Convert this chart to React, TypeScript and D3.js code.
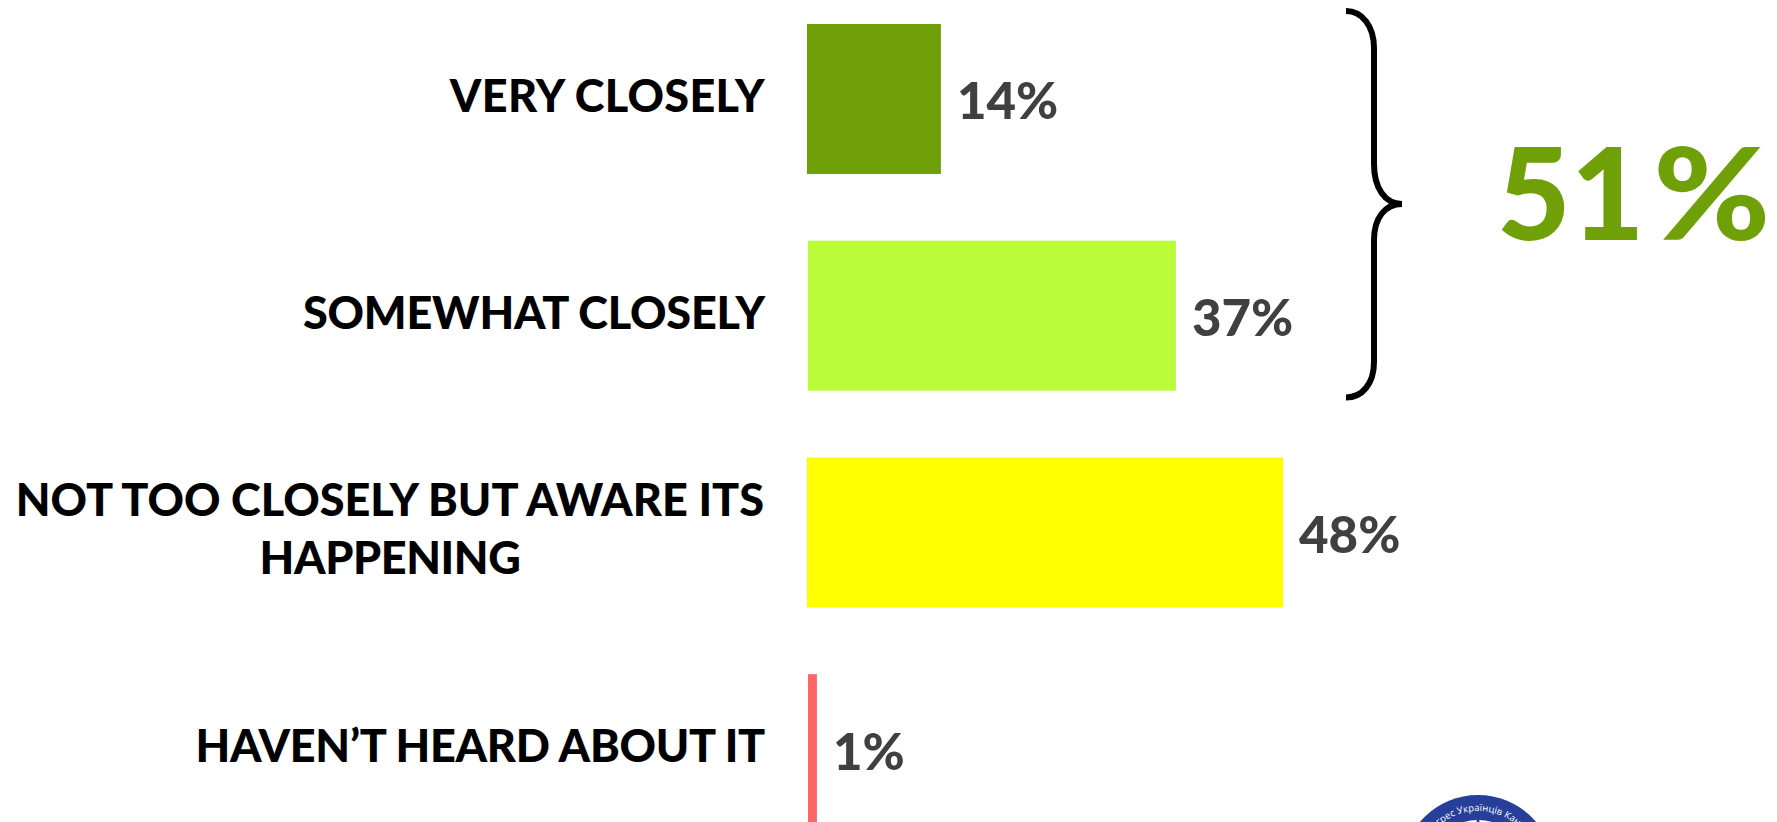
import React from "react";
import * as d3 from "d3";

const categories = ["VERY CLOSELY", "SOMEWHAT CLOSELY", "NOT TOO CLOSELY BUT AWARE ITS|HAPPENING", "HAVEN\u2019T HEARD ABOUT IT"];
const barStarts = [0, 0.1, 0, 0.1];
const values = [13.5, 37.2, 48, 1];
const valueLabels = ["14%", "37%", "48%", "1%"];
const barColors = ["#6fa008", "#bafb3a", "#ffff00", "#ff6666"];
const groupTotal = "51";
const groupUnit = "%";
const logoText = "Конгрес Українців Канади";

const W = 1777, H = 822;
const FONT = "Lato, 'Open Sans', sans-serif";
const labelSpacing = [0.3, -0.2, 0, -0.3];

export default function App() {
  const x = d3.scaleLinear().domain([0, 48]).range([807, 1283]);
  const y = d3.scaleBand<number>().domain(d3.range(categories.length)).range([24, 24 + 4 * 216.7 - 66.7]).paddingInner(0.308);
  const bw = y.bandwidth();
  return (
    <svg width={W} height={H} style={{ position: "absolute", left: 0, top: 0, background: "#fff" }} fontFamily={FONT}>
      {categories.map((c, i) => {
        const lines = c.split("|");
        const cy = (y(i) as number) + bw / 2;
        return (
          <g key={c}>
            <rect x={x(barStarts[i])} y={y(i)} width={x(values[i]) - x(barStarts[i])} height={bw} fill={barColors[i]} />
            {lines.length === 1 ? (
              <text x={765} y={cy - 4} dominantBaseline="central" textAnchor="end" fontSize={45} fontWeight={900} letterSpacing={labelSpacing[i]}>{c}</text>
            ) : (
              <g fontSize={45} fontWeight={900}>
                <text x={764} y={cy - 33} dominantBaseline="central" textAnchor="end">{lines[0]}</text>
                <text x={390} y={cy + 25} dominantBaseline="central" textAnchor="middle" letterSpacing={-0.4}>{lines[1]}</text>
              </g>
            )}
            <text x={x(values[i]) + 16} y={cy + 1} dominantBaseline="central" fontSize={51} fontWeight={900} fill="#404040">{valueLabels[i]}</text>
          </g>
        );
      })}
      <path d="M1346,11 C1362,11 1374,26 1374,48 L1374,164 C1374,188 1385,204 1402,204 C1385,204 1374,218 1374,240 L1374,362 C1374,384 1362,397.5 1346,397.5" fill="none" stroke="#000" strokeWidth={6} />
      <text x={1497} y={240} fontSize={127} fontWeight={900} fill="#6fa008">
        {groupTotal}
        <tspan dx={9} textLength={117} lengthAdjust="spacingAndGlyphs">{groupUnit}</tspan>
      </text>
      <g>
        <circle cx={1478} cy={871} r={76} fill="#26409a" />
        <circle cx={1478} cy={871} r={51} fill="#fff" />
        <circle cx={1478} cy={821} r={1.5} fill="#26409a" />
        <path id="logoArc" d="M1418,871 A60,60 0 0 1 1538,871" fill="none" />
        <text fontSize={9.5} fill="#fff" fontFamily="'Open Sans', sans-serif">
          <textPath href="#logoArc" startOffset="50%" textAnchor="middle">{logoText}</textPath>
        </text>
      </g>
    </svg>
  );
}
